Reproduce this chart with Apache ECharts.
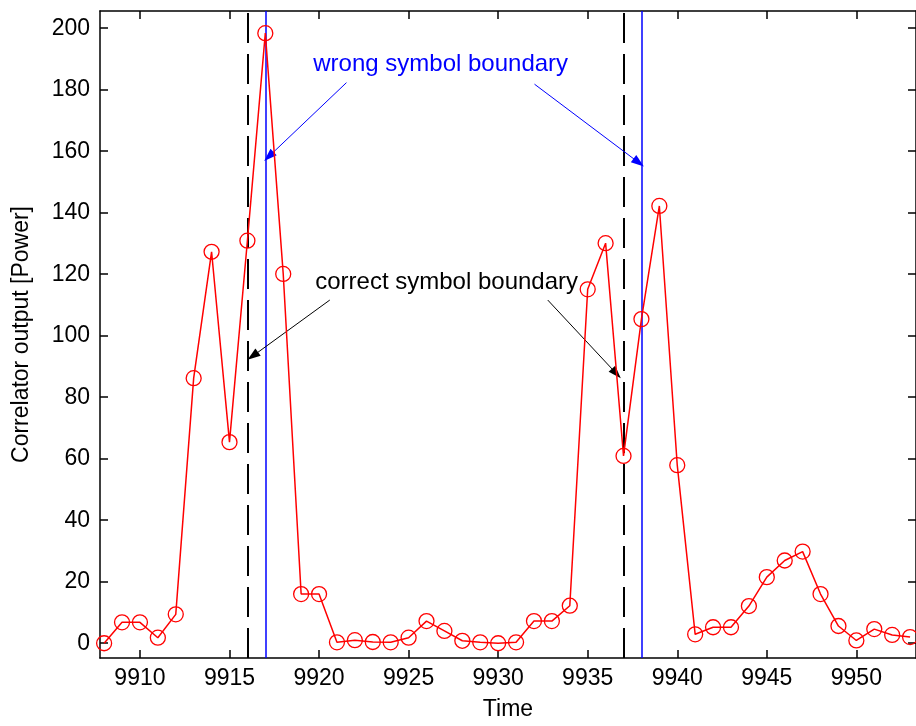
<!DOCTYPE html>
<html>
<head>
<meta charset="utf-8">
<title>Correlator output</title>
<script src="https://cdn.jsdelivr.net/npm/echarts@6/dist/echarts.min.js"></script>
<style>
  html, body { margin: 0; padding: 0; background: #fff; }
  #chart { width: 916px; height: 726px; }
</style>
</head>
<body>
<div id="chart"></div>
<script>
// Sample times and correlator power at each sample
const timeSamples = [9908, 9909, 9910, 9911, 9912, 9913, 9914, 9915, 9916, 9917,
  9918, 9919, 9920, 9921, 9922, 9923, 9924, 9925, 9926, 9927,
  9928, 9929, 9930, 9931, 9932, 9933, 9934, 9935, 9936, 9937,
  9938, 9939, 9940, 9941, 9942, 9943, 9944, 9945, 9946, 9947,
  9948, 9949, 9950, 9951, 9952, 9953];
const powerValues = [0, 6.8, 6.8, 1.8, 9.4, 86.2, 127.3, 65.4, 130.9, 198.4,
  120.1, 16, 16, 0.3, 1, 0.4, 0.3, 1.8, 7.2, 4,
  0.8, 0.3, 0, 0.3, 7.2, 7.2, 12.2, 115.1, 130.1, 60.9,
  105.4, 142.2, 57.9, 2.9, 5.2, 5.2, 12.1, 21.5, 26.9, 29.8,
  16, 5.6, 0.9, 4.6, 2.7, 2.0];

// Symbol boundaries (time positions)
const correctBoundaries = [9916, 9937];
const wrongBoundaries = [9917, 9938];

// Tick values
const timeTicks = [9910, 9915, 9920, 9925, 9930, 9935, 9940, 9945, 9950];
const powerTicks = [0, 20, 40, 60, 80, 100, 120, 140, 160, 180, 200];

// Annotation texts and their anchor points (data units)
const wrongLabel = { text: 'wrong symbol boundary', at: [9919.65, 188.1] };
const correctLabel = { text: 'correct symbol boundary', at: [9919.76, 117.2] };
// Arrows: [start, tip] in data units
const wrongArrows = [
  [[9921.53, 182.3], [9917.2, 158.3]],
  [[9932.03, 181.8], [9937.85, 156.3]]
];
const correctArrows = [
  [[9920.6, 111.6], [9916.3, 93.4]],
  [[9932.77, 111.6], [9936.6, 87.7]]
];

const X_MIN = 9907.77, X_MAX = 9953.33;
const Y_MIN = -4.8, Y_MAX = 205.6;

const FONT = '"Liberation Sans", Arial, Helvetica, sans-serif';
const FS = 23;
const AX = '#000';

const chart = echarts.init(document.getElementById('chart'), null, { renderer: 'canvas' });

function arrowData(list) {
  return list.map(([a, b]) => [{ coord: a }, { coord: b }]);
}

const baseAxisLine = { show: true, onZero: false, lineStyle: { color: AX, width: 1.5 } };
const baseTick = (vals) => ({ show: true, inside: true, length: 8, customValues: vals, lineStyle: { color: AX, width: 1.5 } });

const option = {
  animation: false,
  backgroundColor: '#fff',
  grid: { left: 100, top: 11, right: -1, bottom: 68, containLabel: false },
  xAxis: [
    {
      type: 'value', position: 'bottom', min: X_MIN, max: X_MAX,
      axisLine: baseAxisLine,
      axisTick: baseTick(timeTicks),
      axisLabel: { show: true, customValues: timeTicks, margin: 9, color: '#000', fontFamily: FONT, fontSize: FS,
        formatter: v => String(v) },
      splitLine: { show: false },
      name: 'Time', nameLocation: 'middle', nameGap: 40,
      nameTextStyle: { color: '#000', fontFamily: FONT, fontSize: FS }
    },
    {
      type: 'value', position: 'top', min: X_MIN, max: X_MAX,
      axisLine: baseAxisLine,
      axisTick: baseTick(timeTicks),
      axisLabel: { show: false },
      splitLine: { show: false }
    }
  ],
  yAxis: [
    {
      type: 'value', position: 'left', min: Y_MIN, max: Y_MAX,
      axisLine: baseAxisLine,
      axisTick: baseTick(powerTicks),
      axisLabel: { show: true, customValues: powerTicks, margin: 10, color: '#000', fontFamily: FONT, fontSize: FS },
      splitLine: { show: false },
      name: 'Correlator output [Power]', nameLocation: 'middle', nameGap: 67,
      nameTextStyle: { color: '#000', fontFamily: FONT, fontSize: FS }
    },
    {
      type: 'value', position: 'right', min: Y_MIN, max: Y_MAX,
      axisLine: baseAxisLine,
      axisTick: baseTick(powerTicks),
      axisLabel: { show: false },
      splitLine: { show: false }
    }
  ],
  series: [
    {
      // boundary markers
      type: 'line', data: [], silent: true, z: 1,
      markLine: {
        silent: true, symbol: 'none', label: { show: false },
        emphasis: { disabled: true },
        data: [
          ...correctBoundaries.map(t => ({ xAxis: t, lineStyle: { color: '#000', width: 2, type: [30, 11] } })),
          ...wrongBoundaries.map(t => ({ xAxis: t, lineStyle: { color: '#0000ff', width: 1.5, type: 'solid' } }))
        ]
      }
    },
    {
      // "wrong" annotation
      type: 'line', data: [], silent: true, z: 1,
      markLine: {
        silent: true, symbol: ['none', 'triangle'], symbolSize: [9, 13], label: { show: false },
        emphasis: { disabled: true },
        itemStyle: { color: '#0000ff' },
        lineStyle: { color: '#0000ff', width: 1, type: 'solid' },
        data: arrowData(wrongArrows)
      },
      markPoint: {
        silent: true, symbol: 'circle', symbolSize: 1, itemStyle: { color: 'rgba(0,0,0,0)' },
        label: { show: true, position: 'right', distance: 0, color: '#0000ff', fontFamily: FONT, fontSize: 24,
          formatter: () => wrongLabel.text },
        data: [{ coord: wrongLabel.at }]
      }
    },
    {
      // "correct" annotation
      type: 'line', data: [], silent: true, z: 1,
      markLine: {
        silent: true, symbol: ['none', 'triangle'], symbolSize: [9, 13], label: { show: false },
        emphasis: { disabled: true },
        itemStyle: { color: '#000' },
        lineStyle: { color: '#000', width: 1, type: 'solid' },
        data: arrowData(correctArrows)
      },
      markPoint: {
        silent: true, symbol: 'circle', symbolSize: 1, itemStyle: { color: 'rgba(0,0,0,0)' },
        label: { show: true, position: 'right', distance: 0, color: '#000', fontFamily: FONT, fontSize: 24,
          formatter: () => correctLabel.text },
        data: [{ coord: correctLabel.at }]
      }
    },
    {
      // correlator output samples
      type: 'line', z: 5,
      data: timeSamples.map((t, i) => [t, powerValues[i]]),
      symbol: 'circle', symbolSize: 15, showAllSymbol: true,
      lineStyle: { color: '#ff0000', width: 1.5 },
      itemStyle: { color: 'rgba(0,0,0,0)', borderColor: '#ff0000', borderWidth: 1.3 },
      emphasis: { disabled: true }
    }
  ]
};

chart.setOption(option);
</script>
</body>
</html>
